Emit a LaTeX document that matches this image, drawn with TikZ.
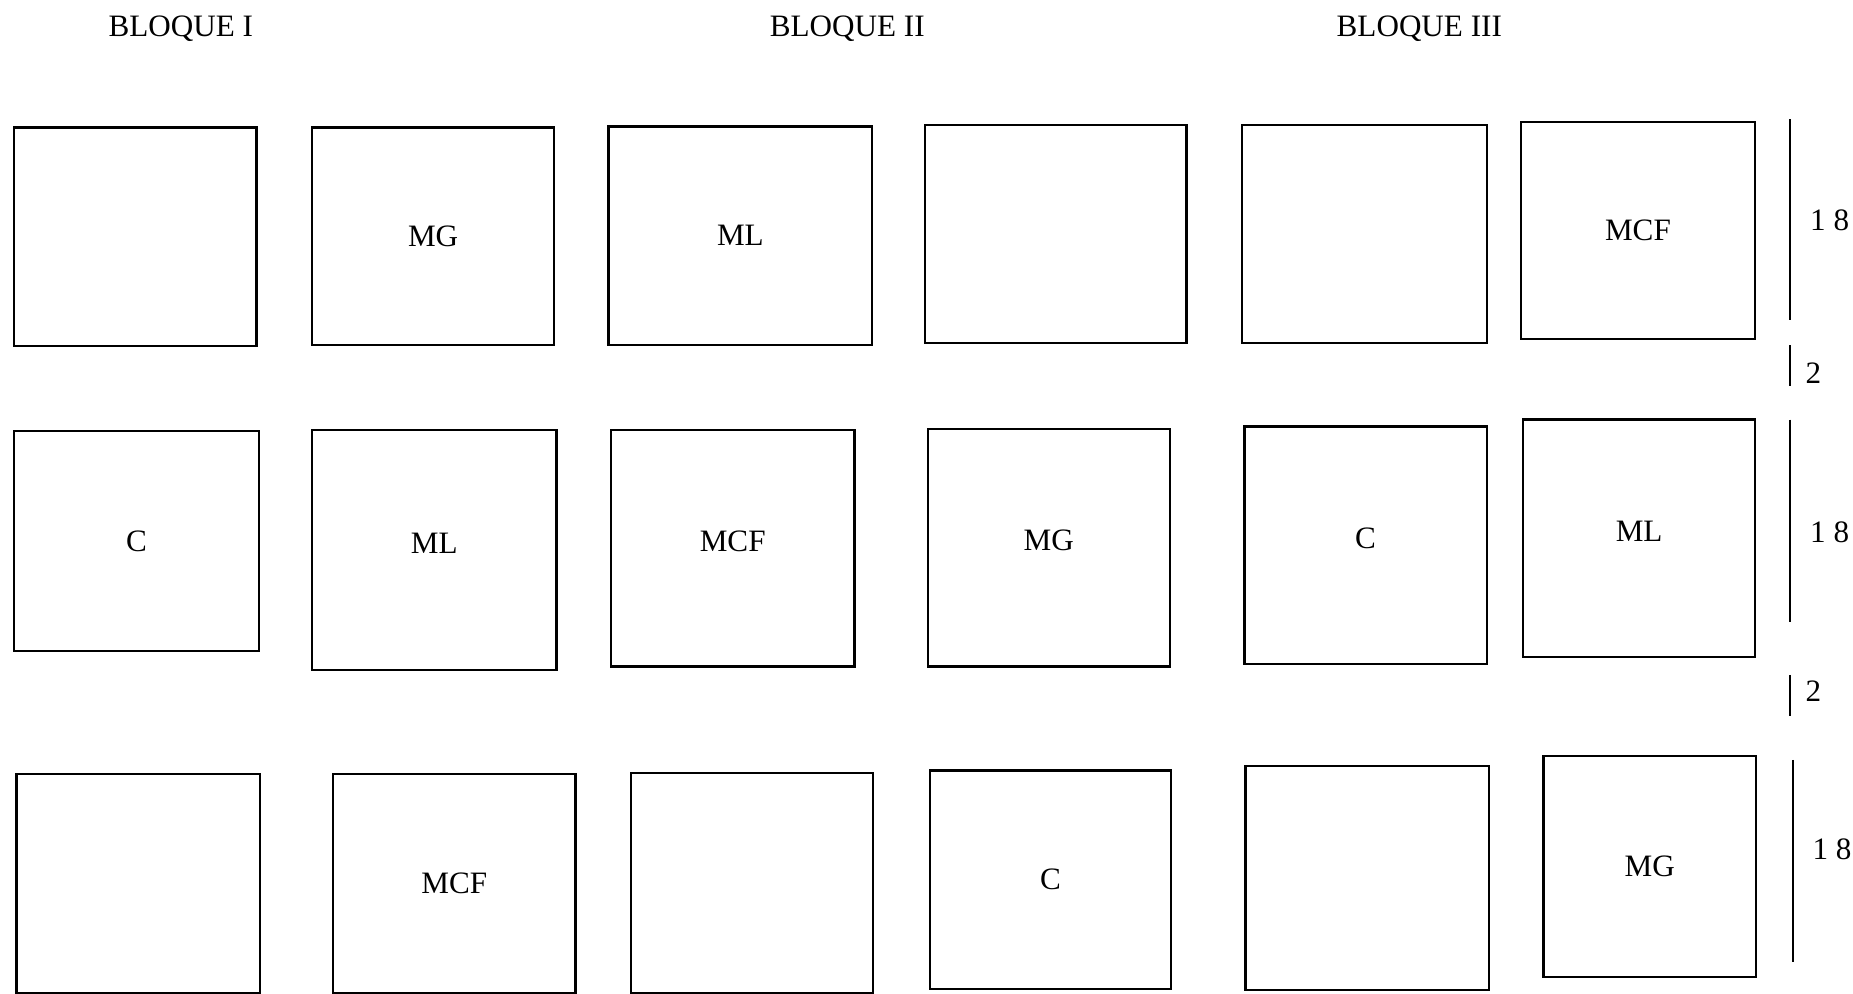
\documentclass[tikz,border=0pt]{standalone}
\usepackage{fontspec}
\setmainfont{Liberation Serif}

\begin{document}
\begin{tikzpicture}[x=0.02cm,y=-0.02cm,every node/.style={font=\fontsize{15}{18}\selectfont},parcela/.style 2 args={draw,line width=1.1pt,inner sep=0pt,minimum width=#1*0.02cm,minimum height=#2*0.02cm},alta/.style={text depth=0.24cm},cota/.style={line width=0.9pt},dimlbl/.style={anchor=west,inner sep=0pt,xshift=3.2mm}]
\useasboundingbox (0,0) rectangle (1568,841);
\node (t1) at (153,24) {BLOQUE I};
\node (t2) at (717,24) {BLOQUE II};
\node (t3) at (1201,24) {BLOQUE III};
% fila 1
\node[parcela={205}{185}] (p11) at (114.5,200.5) {};
\node[parcela={205}{184}] (p12) at (366.5,200) {MG};
\node[parcela={223}{185}] (p13) at (626.5,199.5) {ML};
\node[parcela={221}{184}] (p14) at (893.5,198) {};
\node[parcela={207}{184}] (p15) at (1154.5,198) {};
\node[parcela={198}{184}] (p16) at (1386,195) {MCF};
% fila 2
\node[parcela={207}{186}] (p21) at (115.5,458) {C};
\node[parcela={207}{203},alta] (p22) at (367.5,465.5) {ML};
\node[parcela={206}{200},alta] (p23) at (620,464) {MCF};
\node[parcela={205}{201},alta] (p24) at (887.5,463.5) {MG};
\node[parcela={205}{201},alta] (p25) at (1155.5,461.5) {C};
\node[parcela={196}{201},alta] (p26) at (1387,455.5) {ML};
% fila 3
\node[parcela={206}{185}] (p31) at (117,747.5) {};
\node[parcela={205}{185}] (p32) at (384.5,747.5) {MCF};
\node[parcela={205}{186}] (p33) at (636.5,747) {};
\node[parcela={204}{185}] (p34) at (889,744.5) {C};
\node[parcela={206}{190}] (p35) at (1157,743) {};
\node[parcela={180}{187}] (p36) at (1396,733.5) {MG};
% cotas
\draw[cota] (1515,101) -- (1515,271) node[dimlbl,pos=.5] {1 8};
\draw[cota] (1515,292) -- (1515,327) node[dimlbl,pos=.69,xshift=-.8mm] {2};
\draw[cota] (1515,355) -- (1515,526) node[dimlbl,pos=.56] {1 8};
\draw[cota] (1515,571) -- (1515,606) node[dimlbl,pos=.4,xshift=-.8mm] {2};
\draw[cota] (1517,643) -- (1517,814) node[dimlbl,pos=.44] {1 8};
\end{tikzpicture}
\end{document}
